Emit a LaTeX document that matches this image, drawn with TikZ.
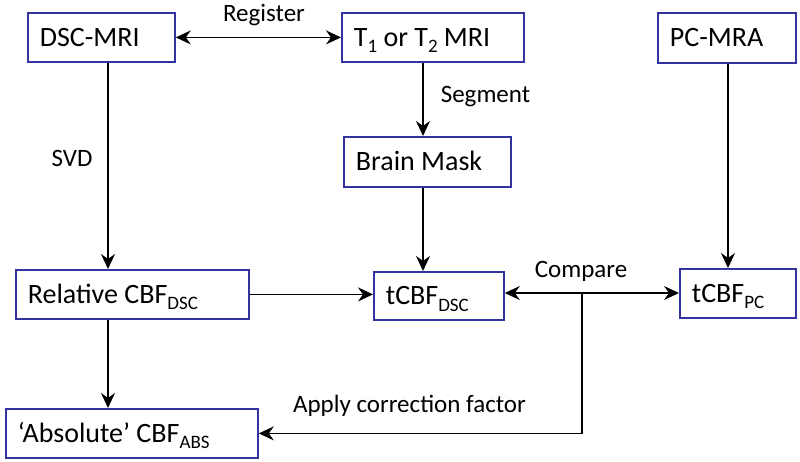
\documentclass[tikz,border=0pt]{standalone}
\usepackage{fontspec}
\setmainfont{Carlito}
\usetikzlibrary{arrows.meta}
\definecolor{boxblue}{RGB}{52,52,160}
\newcommand\subtx[1]{\raisebox{-6.5pt}{\fontsize{19}{19}\selectfont #1}}
\newcommand\bxt[2]{\makebox[#1][l]{#2}}
\tikzset{
  box/.style={draw=boxblue, line width=1.8pt, anchor=north west, inner xsep=12pt, inner ysep=0pt,
    text height=20pt, text depth=2pt, font=\fontsize{28}{30}\selectfont},
  arr/.style={-{Stealth[length=15pt,width=14pt,inset=5pt]}, line width=1.6pt},
  darr/.style={{Stealth[length=15pt,width=14pt,inset=5pt]}-{Stealth[length=15pt,width=14pt,inset=5pt]}, line width=1.6pt},
  lbl/.style={anchor=base, inner sep=0pt, font=\fontsize{25}{27}\selectfont}
}
\begin{document}
\begin{tikzpicture}[x=1pt,y=-1pt]
\useasboundingbox (0,0) rectangle (800,462);
\node[box, minimum height=49pt] (dsc) at (27,12) {\bxt{123pt}{DSC-MRI}};
\node[box, minimum height=49pt] (t12) at (341,12) {\bxt{158pt}{T\subtx{1} or T\subtx{2} MRI}};
\node[box, minimum height=50pt] (pc) at (657,12) {\bxt{114pt}{PC-MRA}};
\node[box, minimum height=50pt] (mask) at (343,136) {\bxt{143pt}{Brain Mask}};
\node[box, minimum height=49pt] (rel) at (15,269) {\bxt{209pt}{Relative CBF\subtx{DSC}}};
\node[box, minimum height=48pt] (tdsc) at (373,271) {\bxt{106pt}{tCBF\subtx{DSC}}};
\node[box, minimum height=49pt] (tpc) at (679,268) {\bxt{92pt}{tCBF\subtx{PC}}};
\node[box, minimum height=49pt] (abs) at (5,408) {\bxt{228pt}{‘Absolute’ CBF\subtx{ABS}}};
\coordinate (xa) at (108,0);
\coordinate (xb) at (423,0);
\coordinate (xc) at (728,0);
\coordinate (cmp) at (582,293);
% connectors
\draw[darr] (dsc.east) -- (t12.west);
\draw[arr] (dsc.south -| xa) -- (rel.north -| xa);
\draw[arr] (t12.south -| xb) -- (mask.north -| xb);
\draw[arr] (mask.south -| xb) -- (tdsc.north -| xb);
\draw[arr] (pc.south -| xc) -- (tpc.north -| xc);
\draw[arr] (rel.east) -- (rel.east -| tdsc.west);
\draw[darr] (tdsc.east |- cmp) -- (tpc.west |- cmp);
\draw[arr] (rel.south -| xa) -- (abs.north -| xa);
\draw[arr, line join=miter] (cmp) |- (abs.east);
% labels
\node[lbl] (lreg) at (264,22) {Register};
\node[lbl] (lsvd) at (72,167) {SVD};
\node[lbl] (lseg) at (485.5,103) {Segment};
\node[lbl] (lcmp) at (581,277) {Compare};
\node[lbl] (lapp) at (409.5,412) {Apply correction factor};
\end{tikzpicture}
\end{document}
